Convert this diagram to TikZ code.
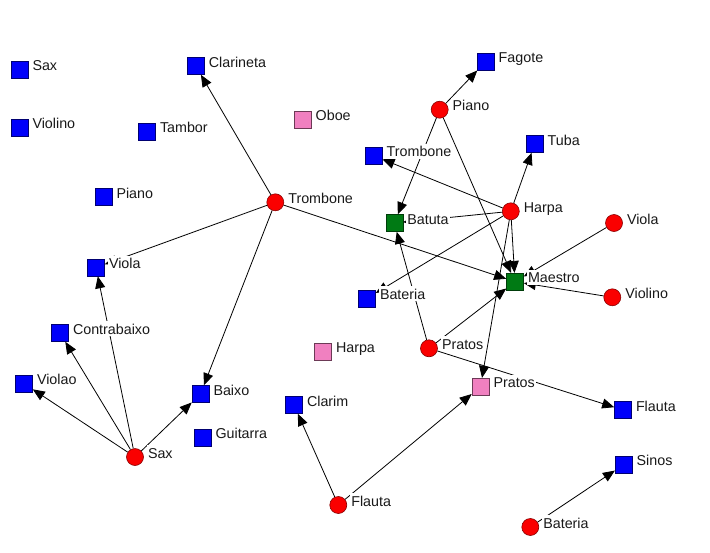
\documentclass[tikz,border=0pt]{standalone}
\usepackage{fontspec}
\setmainfont{Liberation Sans}
\usetikzlibrary{arrows.meta}
\definecolor{nblue}{RGB}{0,0,250}
\definecolor{nred}{RGB}{250,0,0}
\definecolor{ngreen}{RGB}{0,122,20}
\definecolor{npink}{RGB}{240,128,192}
\newcommand\mylabel[3]{\node[lab,anchor=base west] (#1) at ([xshift=2.5pt,yshift=-1pt]#2.east) {#3};}
\tikzset{
  sq/.style={rectangle,minimum size=17pt,inner sep=0pt,line width=0.6pt},
  bsq/.style={sq,fill=nblue,draw=nblue!45!black},
  psq/.style={sq,fill=npink,draw=npink!45!black},
  gsq/.style={sq,fill=ngreen,draw=ngreen!50!black},
  rc/.style={circle,minimum size=17pt,inner sep=0pt,fill=nred,draw=nred!55!black,line width=0.6pt},
  edge/.style={draw=black,line width=0.8pt,-{Triangle[length=12pt,width=10pt]}},
  lab/.style={fill=white,inner xsep=1.5pt,inner ysep=1.5pt,text height=11.5pt,text depth=0.5pt,
    font=\fontsize{14.3}{16}\selectfont,text=black!90}
}
\begin{document}
\begin{tikzpicture}[x=1pt,y=-1pt]
\useasboundingbox[fill=white] (0,0) rectangle (710,552);
% squares
\node[bsq] (sSax) at (19.5,69.5) {};
\node[bsq] (sViolino) at (19.5,127.5) {};
\node[bsq] (sClarineta) at (195.8,66) {};
\node[bsq] (sTambor) at (147,131.5) {};
\node[psq] (sOboe) at (302.7,119.5) {};
\node[bsq] (sPiano) at (103.5,197) {};
\node[bsq] (sViola) at (96,267.5) {};
\node[bsq] (sContrabaixo) at (60,333) {};
\node[bsq] (sViolao) at (24,383.5) {};
\node[bsq] (sBaixo) at (200.5,394) {};
\node[bsq] (sGuitarra) at (202.5,437.5) {};
\node[psq] (sHarpa) at (323,351.7) {};
\node[bsq] (sClarim) at (294,405) {};
\node[bsq] (sFagote) at (485.7,61.7) {};
\node[bsq] (sTrombone) at (373.7,155.7) {};
\node[bsq] (sTuba) at (534.7,144) {};
\node[gsq] (batuta) at (394.3,223) {};
\node[gsq] (maestro) at (515,281.7) {};
\node[bsq] (sBateria) at (367,298.3) {};
\node[psq] (sPratos) at (480.5,386.7) {};
\node[bsq] (sFlauta) at (623,410) {};
\node[bsq] (sSinos) at (623.7,464.7) {};
% circles
\node[rc] (cTrombone) at (275.3,202.3) {};
\node[rc] (cSax) at (135,457) {};
\node[rc] (cFlauta) at (338.3,505) {};
\node[rc] (cBateria) at (530.3,527) {};
\node[rc] (cPiano) at (439.7,109.7) {};
\node[rc] (cHarpa) at (510.8,211.3) {};
\node[rc] (cViola) at (614,223) {};
\node[rc] (cViolino) at (612.3,297.3) {};
\node[rc] (cPratos) at (429,348.3) {};
% edges
\draw[edge] (cTrombone) -- (sClarineta);
\draw[edge] (cTrombone) -- (sViola);
\draw[edge] (cTrombone) -- (sBaixo);
\draw[edge] (cTrombone) -- (maestro);
\draw[edge] (cSax) -- (sViolao);
\draw[edge] (cSax) -- (sContrabaixo);
\draw[edge] (cSax) -- (sViola);
\draw[edge] (cSax) -- (sBaixo);
\draw[edge] (cFlauta) -- (sClarim);
\draw[edge] (cFlauta) -- (sPratos);
\draw[edge] (cBateria) -- (sSinos);
\draw[edge] (cPiano) -- (sFagote);
\draw[edge] (cPiano) -- (batuta);
\draw[edge] (cPiano) -- (maestro);
\draw[edge] (cHarpa) -- (sTrombone);
\draw[edge] (cHarpa) -- (sTuba);
\draw[edge] (cHarpa) -- (batuta);
\draw[edge] (cHarpa) -- (sBateria);
\draw[edge] (cHarpa) -- (maestro);
\draw[edge] (cHarpa) -- (sPratos);
\draw[edge] (cViola) -- (maestro);
\draw[edge] (cViolino) -- (maestro);
\draw[edge] (cPratos) -- (batuta);
\draw[edge] (cPratos) -- (maestro);
\draw[edge] (cPratos) -- (sFlauta);
% labels
\mylabel{lSax}{sSax}{Sax}
\mylabel{lViolino}{sViolino}{Violino}
\mylabel{lClarineta}{sClarineta}{Clarineta}
\mylabel{lTambor}{sTambor}{Tambor}
\mylabel{lOboe}{sOboe}{Oboe}
\mylabel{lPiano}{sPiano}{Piano}
\mylabel{lViola}{sViola}{Viola}
\mylabel{lContrabaixo}{sContrabaixo}{Contrabaixo}
\mylabel{lViolao}{sViolao}{Violao}
\mylabel{lBaixo}{sBaixo}{Baixo}
\mylabel{lGuitarra}{sGuitarra}{Guitarra}
\mylabel{lHarpa}{sHarpa}{Harpa}
\mylabel{lClarim}{sClarim}{Clarim}
\mylabel{lFagote}{sFagote}{Fagote}
\mylabel{lTrombone}{sTrombone}{Trombone}
\mylabel{lTuba}{sTuba}{Tuba}
\mylabel{lBatuta}{batuta}{Batuta}
\mylabel{lMaestro}{maestro}{Maestro}
\mylabel{lBateria}{sBateria}{Bateria}
\mylabel{lPratos}{sPratos}{Pratos}
\mylabel{lFlauta}{sFlauta}{Flauta}
\mylabel{lSinos}{sSinos}{Sinos}
\mylabel{lcTrombone}{cTrombone}{Trombone}
\mylabel{lcSax}{cSax}{Sax}
\mylabel{lcFlauta}{cFlauta}{Flauta}
\mylabel{lcBateria}{cBateria}{Bateria}
\mylabel{lcPiano}{cPiano}{Piano}
\mylabel{lcHarpa}{cHarpa}{Harpa}
\mylabel{lcViola}{cViola}{Viola}
\mylabel{lcViolino}{cViolino}{Violino}
\mylabel{lcPratos}{cPratos}{Pratos}
\end{tikzpicture}
\end{document}
